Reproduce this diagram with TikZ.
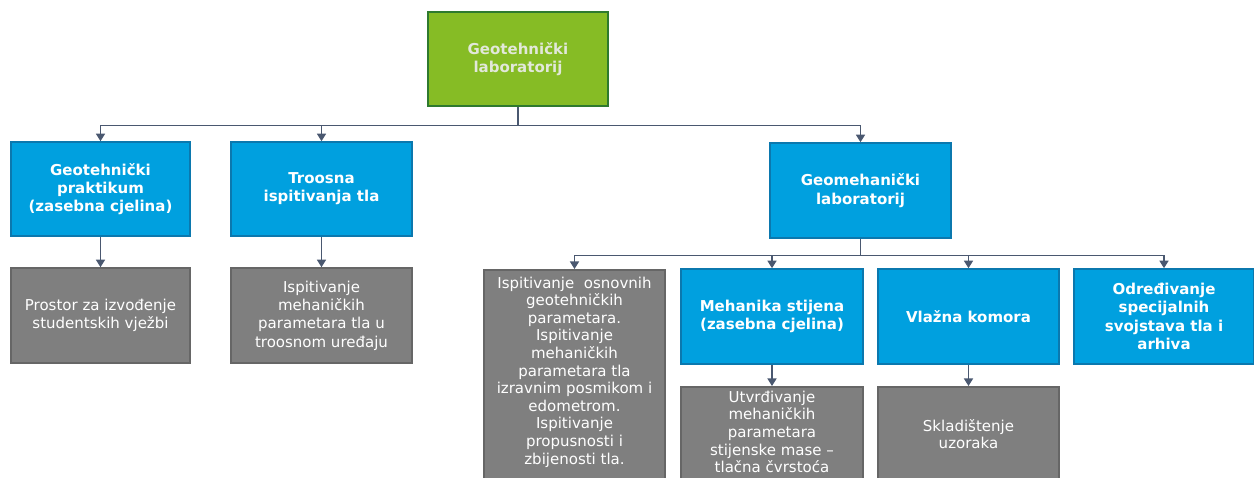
\documentclass[tikz,border=0pt]{standalone}
\usepackage{fontspec}
\setmainfont{DejaVu Sans}
\usetikzlibrary{arrows.meta}
\definecolor{topgreen}{HTML}{86BC25}
\definecolor{topborder}{HTML}{2E7A2E}
\definecolor{topfont}{HTML}{E2E8DA}
\definecolor{unitblue}{HTML}{00A0DF}
\definecolor{unitborder}{HTML}{0B78AE}
\definecolor{taskgray}{HTML}{7F7F7F}
\definecolor{taskborder}{HTML}{666666}
\definecolor{linkcol}{HTML}{4A5870}
\tikzset{
  box/.style={rectangle, align=center, inner sep=2pt,
    font=\fontsize{15}{18.3}\selectfont},
  rootbox/.style={box, fill=topgreen, draw=topborder, line width=2.6pt,
    text=topfont, font=\fontsize{15}{18.3}\selectfont\bfseries},
  unitbox/.style={box, fill=unitblue, draw=unitborder, line width=1.6pt,
    text=white, font=\fontsize{15}{18.3}\selectfont\bfseries},
  taskbox/.style={box, fill=taskgray, draw=taskborder, line width=1.6pt,
    text=white},
  tasktext/.style={box, text=white, font=\fontsize{15}{17.6}\selectfont},
  link/.style={draw=linkcol, line width=1.4pt,
    -{Triangle[width=9pt,length=7.5pt]}},
}
\begin{document}
\begin{tikzpicture}[x=1pt,y=-1pt]
\useasboundingbox (0,0) rectangle (1254,478);
\clip (0,0) rectangle (1254,478);

% root
\node[rootbox, minimum width=180, minimum height=94] (root) at (518,59)
  {Geotehnički\\laboratorij};

% first level
\node[unitbox, minimum width=179, minimum height=94] (prak) at (100.5,189)
  {Geotehnički\\praktikum\\(zasebna cjelina)};
\node[unitbox, minimum width=181, minimum height=94] (troos) at (321.5,189)
  {Troosna\\ispitivanja tla};
\node[unitbox, minimum width=181, minimum height=95] (geom) at (860.5,190.5)
  {Geomehanički\\laboratorij};

% tasks below the first level
\node[taskbox, minimum width=179, minimum height=95] (prostor) at (100.5,315.5)
  {Prostor za izvođenje\\studentskih vježbi};
\node[taskbox, minimum width=181, minimum height=95] (triax) at (321.5,315.5)
  {Ispitivanje\\mehaničkih\\parametara tla u\\troosnom uređaju};

% second level under Geomehanički laboratorij
\node[taskbox, minimum width=181, minimum height=240, anchor=north] (osnov) at (574.5,269) {};
\node[tasktext] (osnovt) at (574.5,372)
  {Ispitivanje~ osnovnih\\geotehničkih\\parametara.\\Ispitivanje\\mehaničkih\\parametara tla\\izravnim posmikom i\\edometrom.\\Ispitivanje\\propusnosti i\\zbijenosti tla.};
\node[unitbox, minimum width=182, minimum height=95] (stij) at (772,316.5)
  {Mehanika stijena\\(zasebna cjelina)};
\node[unitbox, minimum width=181, minimum height=95] (vlaz) at (968.5,316.5)
  {Vlažna komora};
\node[unitbox, minimum width=180, minimum height=95] (spec) at (1164,316.5)
  {Određivanje\\specijalnih\\svojstava tla i\\arhiva};

% tasks of the second level
\node[taskbox, minimum width=182, minimum height=140, anchor=north] (utvr) at (772,386) {};
\node[tasktext] (utvrt) at (772,432)
  {Utvrđivanje\\mehaničkih\\parametara\\stijenske mase –\\tlačna čvrstoća};
\node[taskbox, minimum width=181, minimum height=140, anchor=north] (sklad) at (968.5,386) {};
\node[tasktext] (skladt) at (968.5,434)
  {Skladištenje\\uzoraka};

% connectors from the root
\draw[link] (root.south) -- ++(0,18) -| (prak.north);
\draw[link] (root.south) -- ++(0,18) -| (troos.north);
\draw[link] (root.south) -- ++(0,18) -| (geom.north);

% connectors from Geomehanički laboratorij
\draw[link] (geom.south) -- ++(0,17) -| (osnov.north);
\draw[link] (geom.south) -- ++(0,17) -| (stij.north);
\draw[link] (geom.south) -- ++(0,17) -| (vlaz.north);
\draw[link] (geom.south) -- ++(0,17) -| (spec.north);

% straight connectors to the tasks
\draw[link] (prak.south) -- (prostor.north);
\draw[link] (troos.south) -- (triax.north);
\draw[link] (stij.south) -- (utvr.north);
\draw[link] (vlaz.south) -- (sklad.north);
\end{tikzpicture}
\end{document}
